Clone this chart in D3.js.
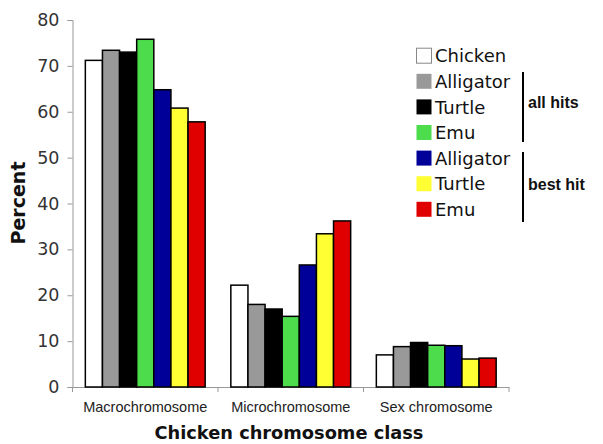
<!DOCTYPE html>
<html><head><meta charset="utf-8">
<script src="https://cdn.jsdelivr.net/npm/d3@7"></script>
<style>body{margin:0;background:#fff}</style>
</head><body>
<svg id="c" width="603" height="444"></svg>
<script>
const categories = ["Macrochromosome", "Microchromosome", "Sex chromosome"];
const seriesNames = ["Chicken", "Alligator", "Turtle", "Emu", "Alligator", "Turtle", "Emu"];
const seriesColors = ["#ffffff", "#999999", "#000000", "#4cdc4c", "#000099", "#ffff33", "#e00000"];
const chicken = [71.2, 22.2, 7.0];
const alligatorAll = [73.4, 18.0, 8.8];
const turtleAll = [73.0, 17.0, 9.7];
const emuAll = [75.8, 15.4, 9.1];
const alligatorBest = [64.8, 26.6, 9.0];
const turtleBest = [60.8, 33.4, 6.1];
const emuBest = [57.8, 36.2, 6.3];
const yTicks = [0, 10, 20, 30, 40, 50, 60, 70, 80];
const groupLabels = ["all hits", "best hit"];

const series = [chicken, alligatorAll, turtleAll, emuAll, alligatorBest, turtleBest, emuBest];
const svg = d3.select("#c");
const m = {l: 72.5, r: 94, t: 20, b: 57};
const W = 603, H = 444;
const x0 = d3.scaleBand().domain(categories).range([m.l, W - m.r]).paddingInner(0).paddingOuter(0);
const x1 = d3.scaleBand().domain(d3.range(series.length)).range([0, x0.bandwidth()]).paddingInner(0).paddingOuter(0.75);
const y = d3.scaleLinear().domain([0, 80]).range([H - m.b, m.t]);

// axes
const ya = svg.append("g").attr("transform", `translate(${m.l},0)`)
  .call(d3.axisLeft(y).tickValues(yTicks).tickSize(5).tickPadding(8));
ya.selectAll("path,line").attr("stroke", "#999");
ya.selectAll("text").attr("font-family", "DejaVu Sans, Verdana, sans-serif").attr("font-size", 17.5).attr("fill", "#333");

const xa = svg.append("g").attr("transform", `translate(0,${y(0)})`)
  .call(d3.axisBottom(x0).tickSize(0).tickPadding(15));
xa.select("path").attr("stroke", "#999");
xa.selectAll("text").attr("font-family", "Liberation Sans, Arial, sans-serif").attr("font-size", 14.5).attr("fill", "#222");
// category boundary ticks
const bounds = categories.map(c => x0(c)).concat([x0(categories[categories.length-1]) + x0.bandwidth()]);
svg.append("g").selectAll("line").data(bounds).join("line")
  .attr("x1", d => d).attr("x2", d => d).attr("y1", y(0)).attr("y2", y(0) + 5).attr("stroke", "#999");

// bars
const g = svg.append("g");
categories.forEach((c, ci) => {
  series.forEach((s, si) => {
    g.append("rect")
      .attr("x", x0(c) + x1(si))
      .attr("y", y(s[ci]))
      .attr("width", x1.bandwidth())
      .attr("height", y(0) - y(s[ci]))
      .attr("fill", seriesColors[si])
      .attr("stroke", "#000").attr("stroke-width", 1.5);
  });
});

// axis titles
svg.append("text").attr("transform", `translate(25,203) rotate(-90)`)
  .attr("text-anchor", "middle").attr("font-family", "DejaVu Sans, Verdana, sans-serif")
  .attr("font-weight", "bold").attr("font-size", 19).attr("fill", "#111").text("Percent");
svg.append("text").attr("x", 289).attr("y", 438.5).attr("text-anchor", "middle")
  .attr("font-family", "DejaVu Sans, Verdana, sans-serif").attr("font-weight", "bold")
  .attr("font-size", 17.8).attr("fill", "#111").text("Chicken chromosome class");

// legend
const lg = svg.append("g");
seriesNames.forEach((n, i) => {
  const cy = 55.7 + i * 25.6;
  lg.append("rect").attr("x", 416.5).attr("y", cy - 7.5).attr("width", 15).attr("height", 15)
    .attr("fill", seriesColors[i]).attr("stroke", i === 0 ? "#888" : "none");
  lg.append("text").attr("x", 435).attr("y", cy + 6.7).attr("font-family", "DejaVu Sans, Verdana, sans-serif")
    .attr("font-size", 18).attr("fill", "#111").text(n);
});
const br = [[72, 142, 108], [152, 222, 190]];
br.forEach((b, i) => {
  lg.append("line").attr("x1", 523).attr("x2", 523).attr("y1", b[0]).attr("y2", b[1]).attr("stroke", "#000").attr("stroke-width", 2);
  lg.append("text").attr("x", 528).attr("y", b[2]).attr("font-family", "Liberation Sans, Arial, sans-serif")
    .attr("font-weight", "bold").attr("font-size", 16).attr("fill", "#111").text(groupLabels[i]);
});
</script>
</body></html>
